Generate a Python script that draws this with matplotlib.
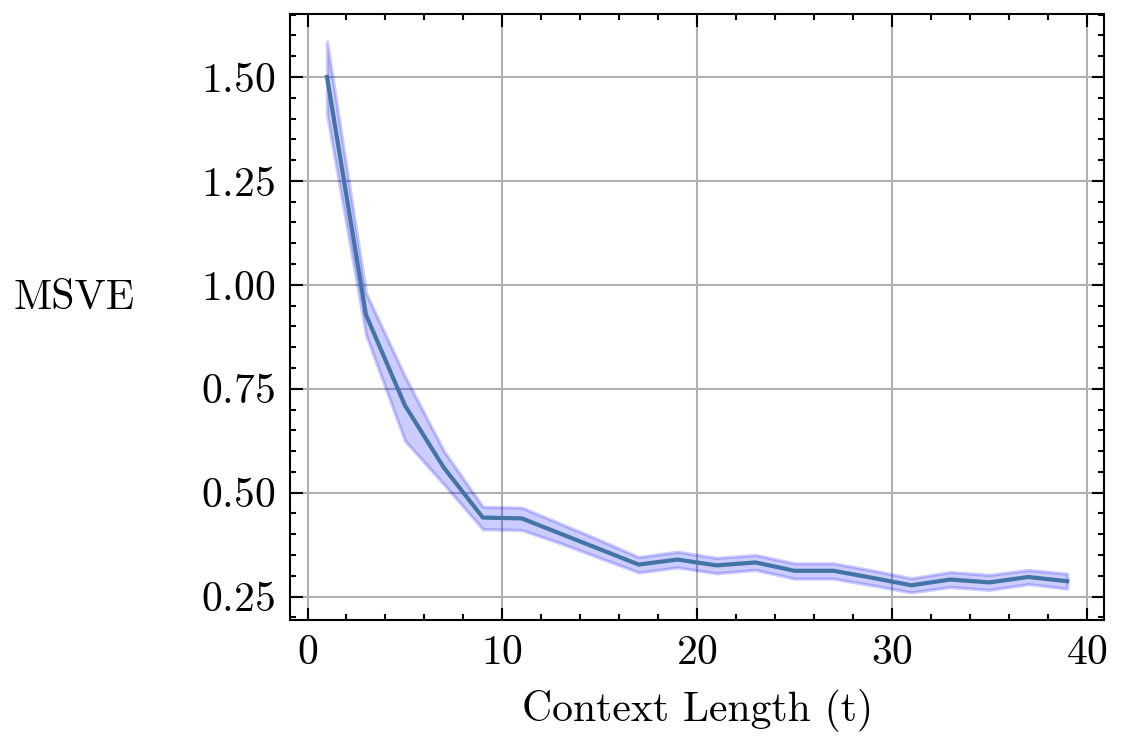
import numpy as np
import matplotlib
matplotlib.use('Agg')
import matplotlib.pyplot as plt
from matplotlib.ticker import AutoMinorLocator

plt.rcParams['font.family'] = 'serif'
plt.rcParams['font.serif'] = ['cmr10']
plt.rcParams['mathtext.fontset'] = 'cm'
plt.rcParams['axes.formatter.use_mathtext'] = True
plt.rcParams['font.size'] = 10

# context lengths and mean squared value error with its band
context = [1, 3, 5, 7, 9, 11, 13, 15, 17, 19, 21, 23, 25, 27, 29, 31, 33, 35, 37, 39]
msve = [1.500, 0.928, 0.710, 0.560, 0.440, 0.438, 0.401, 0.364, 0.327, 0.339, 0.325, 0.332,
        0.312, 0.312, 0.295, 0.277, 0.291, 0.284, 0.297, 0.287]
msve_lo = [1.410, 0.880, 0.625, 0.520, 0.412, 0.410, 0.378, 0.343, 0.308, 0.320, 0.306, 0.314,
           0.293, 0.293, 0.277, 0.260, 0.273, 0.266, 0.280, 0.269]
msve_hi = [1.585, 0.980, 0.780, 0.600, 0.466, 0.464, 0.425, 0.386, 0.345, 0.358, 0.343, 0.350,
           0.330, 0.330, 0.313, 0.294, 0.309, 0.302, 0.314, 0.305]

fig = plt.figure(figsize=(1121 / 300, 746 / 300), dpi=300)
ax = fig.add_axes([0.2587, 0.169, 0.985 - 0.2587, 0.981 - 0.169])

ax.fill_between(context, msve_lo, msve_hi, color='blue', alpha=0.2, linewidth=0.8)
ax.plot(context, msve, color='#4275a5', linewidth=1.0)

ax.grid(True, color='#b0b0b0', linewidth=0.5)
ax.set_axisbelow(True)
ax.set_yticks([0.25, 0.50, 0.75, 1.00, 1.25, 1.50])
ax.xaxis.set_minor_locator(AutoMinorLocator(5))
ax.yaxis.set_minor_locator(AutoMinorLocator(5))
ax.tick_params(which='both', direction='in', top=True, right=True, width=0.5)
ax.tick_params(which='major', length=3)
ax.tick_params(which='minor', length=1.5)
for s in ax.spines.values():
    s.set_linewidth(0.5)

ax.set_xlabel('Context Length (t)')
ax.set_ylabel('MSVE', rotation=0, labelpad=30.5)

fig.savefig('out.png', dpi=300)
